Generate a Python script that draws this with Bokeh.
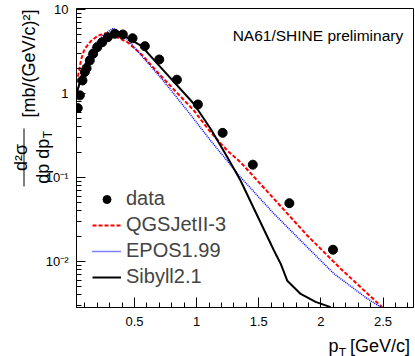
import numpy as np
from bokeh.plotting import figure
from bokeh.layouts import row, column
from bokeh.models import Label, Legend, LegendItem, FixedTicker, Range1d, BoxAnnotation
from bokeh.core.properties import value
from bokeh.embed import file_html
from bokeh.resources import INLINE

# ---- data ----
data_pt = [0.043, 0.060, 0.081, 0.100, 0.114, 0.140, 0.167, 0.200, 0.240, 0.285, 0.341,
           0.406, 0.484, 0.583, 0.699, 0.841, 1.010, 1.209, 1.452, 1.746, 2.097]
data_val = [0.67, 0.95, 1.43, 1.80, 2.00, 2.47, 2.97, 3.56, 4.08, 4.68, 5.14,
            5.04, 4.55, 3.66, 2.54, 1.46, 0.74, 0.34, 0.142, 0.0494, 0.0138]

qgs_pt = [0.035, 0.043, 0.071, 0.097, 0.151, 0.205, 0.258, 0.312, 0.366, 0.446, 0.554,
          0.709, 0.977, 1.112, 1.246, 1.353, 1.488, 1.622, 1.890, 2.159, 2.507]
qgs_val = [1.35, 1.55, 2.56, 3.36, 4.24, 4.86, 5.18, 5.08, 4.64, 4.05, 2.94,
           1.64, 0.628, 0.346, 0.209, 0.152, 0.092, 0.0557, 0.0204, 0.0082, 0.00273]

epos_pt = [0.035, 0.043, 0.071, 0.124, 0.178, 0.258, 0.325, 0.353, 0.419, 0.554, 0.709,
           0.924, 1.112, 1.353, 1.622, 1.890, 2.105, 2.374, 2.481]
epos_val = [0.95, 1.05, 1.63, 2.81, 3.86, 5.08, 5.94, 5.73, 4.86, 2.84, 1.56,
            0.628, 0.275, 0.101, 0.037, 0.0148, 0.00714, 0.0036, 0.00286]

sib_pt = [0.035, 0.043, 0.071, 0.124, 0.178, 0.258, 0.339, 0.419, 0.554, 0.709, 0.977,
          1.112, 1.246, 1.353, 1.494, 1.622, 1.676, 1.729, 1.837, 1.957, 2.078]
sib_val = [1.02, 1.12, 1.55, 2.56, 3.37, 4.43, 5.08, 4.86, 3.70, 2.06, 0.754,
           0.380, 0.175, 0.092, 0.0336, 0.0135, 0.0094, 0.0059, 0.0041, 0.0033, 0.00286]

x_major = [0.5, 1.0, 1.5, 2.0, 2.5]
x_minor = [0.1, 0.2, 0.3, 0.4, 0.6, 0.7, 0.8, 0.9, 1.1, 1.2, 1.3, 1.4, 1.6, 1.7, 1.8, 1.9,
           2.1, 2.2, 2.3, 2.4, 2.6, 2.7]
x_labels = ["0.5", "1", "1.5", "2", "2.5"]
y_major = [0.01, 0.1, 1.0, 10.0]
y_labels = ["10\u207b\u00b2", "10\u207b\u00b9", "1", "10"]
y_minor = [0.003, 0.004, 0.005, 0.006, 0.007, 0.008, 0.009,
           0.02, 0.03, 0.04, 0.05, 0.06, 0.07, 0.08, 0.09,
           0.2, 0.3, 0.4, 0.5, 0.6, 0.7, 0.8, 0.9,
           2, 3, 4, 5, 6, 7, 8, 9]

legend_labels = ["data", "QGSJetII-3", "EPOS1.99", "Sibyll2.1"]
title_text = "NA61/SHINE preliminary"

X_LO, X_HI = 0.033, 2.745
Y_LO, Y_HI = 0.00283, 10.28

FONT = "Liberation Sans"
W, H = 415, 356
W_YL = 70                 # strip holding y tick labels and y title
H_XL = 27                 # strip holding x title
TOP, FRAME_H = 8, 299     # frame placement (pixels)
BOTTOM_MAIN = H - H_XL - TOP - FRAME_H

# ---------------- main plot ----------------
p = figure(width=W - W_YL, height=H - H_XL, y_axis_type="log",
           x_range=Range1d(X_LO, X_HI), y_range=Range1d(Y_LO, Y_HI),
           output_backend="svg", toolbar_location=None,
           min_border_left=76 - W_YL, min_border_right=2,
           min_border_top=TOP, min_border_bottom=BOTTOM_MAIN)
p.xgrid.visible = False
p.ygrid.visible = False
p.outline_line_color = "black"
p.outline_line_width = 1

p.xaxis.ticker = FixedTicker(ticks=x_major, minor_ticks=x_minor)
p.yaxis.ticker = FixedTicker(ticks=y_major, minor_ticks=y_minor)
p.xaxis.major_label_overrides = {t: l for t, l in zip(x_major, x_labels)}
# y tick labels are drawn in the left strip (same log scale)
p.yaxis.major_label_overrides = {t: "" for t in y_major}
for ax, mj in ((p.xaxis, 10), (p.yaxis, 9)):
    ax.major_tick_in = mj
    ax.major_tick_out = 0
    ax.minor_tick_in = 5
    ax.minor_tick_out = 0
    ax.major_tick_line_color = "black"
    ax.minor_tick_line_color = "black"
    ax.axis_line_color = "black"
    ax.major_label_text_font = FONT
    ax.major_label_text_font_size = "13px"
    ax.major_label_text_color = "black"
p.xaxis.major_label_standoff = 9
p.yaxis.major_label_standoff = 0

r_q = p.line(qgs_pt, qgs_val, line_color="#ff0000", line_width=2, line_dash="4 2")
r_e = p.line(epos_pt, epos_val, line_color="#0000ff", line_width=1.5, line_dash="1 1")
r_s = p.line(sib_pt, sib_val, line_color="black", line_width=2)
r_d = p.scatter(data_pt, data_val, size=9, color="black")

legend = Legend(items=[LegendItem(label=legend_labels[0], renderers=[r_d]),
                       LegendItem(label=legend_labels[1], renderers=[r_q]),
                       LegendItem(label=legend_labels[2], renderers=[r_e]),
                       LegendItem(label=legend_labels[3], renderers=[r_s])],
                location=(16, 19), padding=0, margin=0, spacing=3,
                glyph_width=29, glyph_height=20, label_height=20, label_standoff=5,
                label_text_font=FONT, label_text_font_size="20px",
                border_line_color=None, background_fill_alpha=0)
p.add_layout(legend, "center")

p.add_layout(Label(x=326.7, y=272, x_units="screen", y_units="screen", text=title_text,
                   text_font=FONT, text_font_size="15.5px", text_align="right",
                   text_baseline="alphabetic", text_color="black"))

# ---------------- left strip: y tick labels + y title ----------------
lo, hi = np.log10(Y_LO), np.log10(Y_HI)
per_px = (hi - lo) / FRAME_H
strip_lo = 10 ** (lo - (H - TOP - FRAME_H) * per_px)
strip_hi = 10 ** (hi + TOP * per_px)

yl = figure(width=W_YL, height=H, y_axis_type="log",
            x_range=Range1d(0, W_YL), y_range=Range1d(strip_lo, strip_hi),
            output_backend="svg", toolbar_location=None, min_border=0,
            x_axis_location=None, y_axis_location=None)
yl.xgrid.visible = False
yl.ygrid.visible = False
yl.outline_line_color = None
yl.text(x=[W_YL - 2] * len(y_major), y=y_major, text=y_labels,
        text_font=value(FONT), text_font_size="13px", text_align="right",
        text_baseline="middle", text_color="black")

def slab(fig, text, x, y, size, align, angle=0.0):
    fig.add_layout(Label(x=x, y=y, x_units="screen", y_units="screen", text=text,
                         text_font=FONT, text_font_size=size, text_align=align,
                         text_baseline="alphabetic", angle=angle, text_color="black"))

a = np.pi / 2
slab(yl, "[mb/(GeV/c)\u00b2]", 28.3, H - 63, "18px", "center", a)
slab(yl, "d\u00b2\u03c3", 20.5, H - 157, "18px", "center", a)
slab(yl, "dp dp", 42, H - 183.2, "18px", "left", a)
slab(yl, "T", 47, H - 137.7, "12px", "left", a)
yl.add_layout(BoxAnnotation(left=23, right=24, bottom=H - 186, top=H - 128,
                            left_units="screen", right_units="screen",
                            bottom_units="screen", top_units="screen",
                            fill_color="black", fill_alpha=1, line_color=None))

# ---------------- bottom strip: x title (pixel data coordinates) ----------------
xl = figure(width=W - W_YL, height=H_XL, x_range=Range1d(0, W - W_YL), y_range=Range1d(0, H_XL),
            output_backend="svg", toolbar_location=None, min_border=0,
            x_axis_location=None, y_axis_location=None)
xl.xgrid.visible = False
xl.ygrid.visible = False
xl.outline_line_color = None
xl.text(x=[338.3 - W_YL], y=[11], text=["p"], text_font=value(FONT), text_font_size="18px",
        text_align="right", text_baseline="alphabetic", text_color="black")
xl.text(x=[346 - W_YL], y=[4], text=["T"], text_font=value(FONT), text_font_size="12px",
        text_align="right", text_baseline="alphabetic", text_color="black")
xl.text(x=[411.5 - W_YL], y=[11], text=["[GeV/c]"], text_font=value(FONT), text_font_size="18px",
        text_align="right", text_baseline="alphabetic", text_color="black")

layout = row(yl, column(p, xl, spacing=0), spacing=0)
open("out.html", "w").write(file_html(layout, INLINE))
